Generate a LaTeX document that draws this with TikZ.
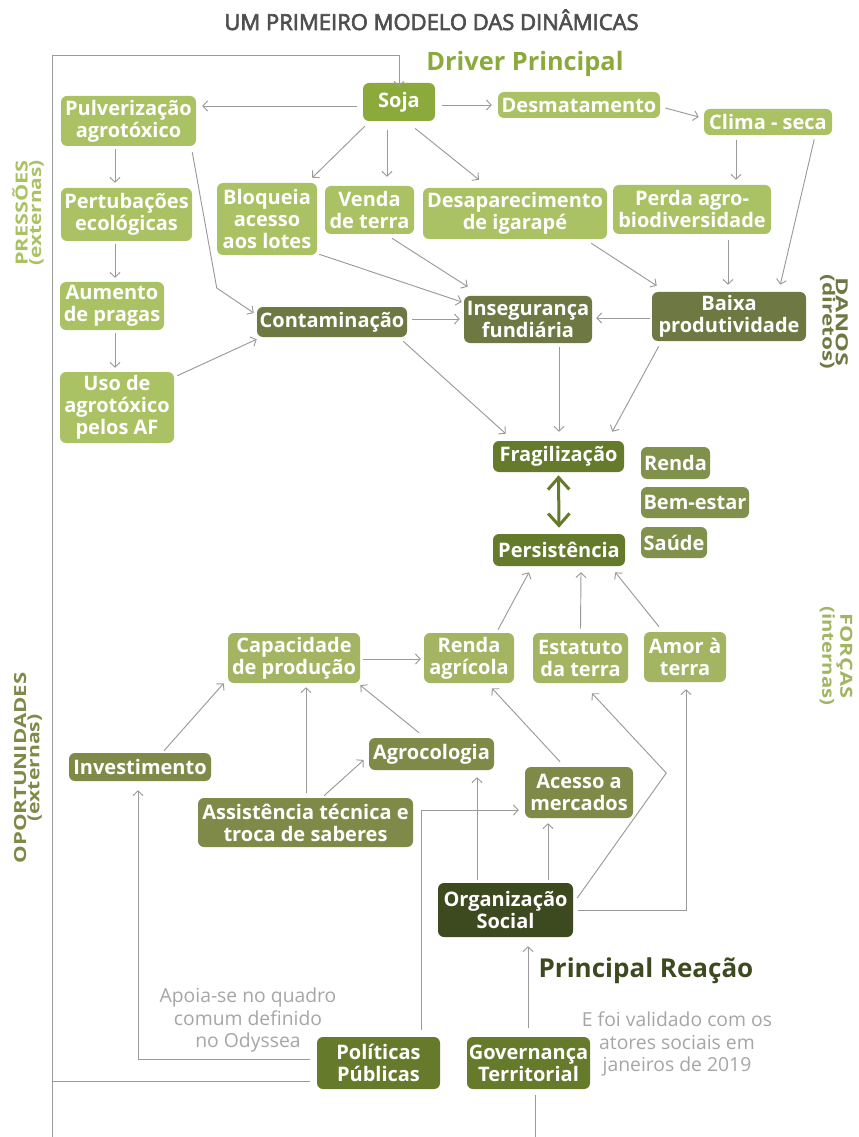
\documentclass[tikz,border=0pt]{standalone}
\usepackage{fontspec}
\setmainfont{Open Sans}
\newfontfamily\titlefont[FakeBold=3]{Open Sans}
\usetikzlibrary{arrows.meta,calc}

\definecolor{cLight}{HTML}{AAC264}
\definecolor{cSoja}{HTML}{8BAA3B}
\definecolor{cDano}{HTML}{6E7842}
\definecolor{cFrag}{HTML}{657A2A}
\definecolor{cRenda}{HTML}{80914C}
\definecolor{cForca}{HTML}{A3B562}
\definecolor{cOport}{HTML}{7F8A48}
\definecolor{cOrg}{HTML}{3D4A1F}
\definecolor{cPol}{HTML}{667A2C}
\definecolor{cLine}{HTML}{9A9A9A}
\definecolor{cTitle}{HTML}{4F4F4F}
\definecolor{cNote}{HTML}{A6A6A6}

\begin{document}
\begin{tikzpicture}[x=0.75pt,y=-0.75pt,
  box/.style={rounded corners=4.5pt, text=white, align=center, inner sep=0pt,
    font=\bfseries\fontsize{15}{16.5}\selectfont},
  sz/.style 2 args={minimum width={#1*0.75pt}, minimum height={#2*0.75pt}},
  link/.style={draw=cLine, line width=0.7pt},
  arr/.style={link, -{Straight Barb[length=3.5pt,width=7.5pt]}},
  bigarr/.style={draw=cFrag, line width=2.25pt,
    {Straight Barb[length=9pt,width=16pt]}-{Straight Barb[length=9pt,width=16pt]}},
  side/.style={align=center, inner sep=0pt, font=\bfseries\fontsize{12.5}{10}\selectfont},
  note/.style={align=center, inner sep=0pt, text=cNote, font=\fontsize{14.5}{17}\selectfont}
]
\fill[white] (0,0) rectangle (858,1137);
\useasboundingbox (0,0) rectangle (858,1137);

% headings
\node[anchor=base, inner sep=0pt, text=cTitle, font=\titlefont\fontsize{16.5}{18}\selectfont] (title) at (431.5,30) {UM PRIMEIRO MODELO DAS DINÂMICAS};
\node[anchor=base, inner sep=0pt, text=cSoja, font=\bfseries\fontsize{19}{22}\selectfont] (driver) at (525,71) {Driver Principal};
\node[anchor=base, inner sep=0pt, text=cOrg, font=\bfseries\fontsize{19.5}{22}\selectfont] (reacao) at (646,977) {Principal Reação};

% side labels
\node[side, rotate=90, text=cLight] (pressoes) at (28,213) {\scalebox{1.3}[1]{PRESSÕES}\\\scalebox{1.25}[1]{(externas)}};
\node[side, rotate=90, text=cOport] (oportun) at (28,768) {\scalebox{1.33}[1]{OPORTUNIDADES}\\\scalebox{1.27}[1]{(externas)}};
\node[side, rotate=-90, text=cDano] (danos) at (834,322) {\scalebox{1.5}[1]{DANOS}\\\scalebox{1.35}[1]{(diretos)}};
\node[side, rotate=-90, text=cForca] (forcas) at (836,656) {\scalebox{1.31}[1]{FORÇAS}\\\scalebox{1.22}[1]{(internas)}};

% notes
\node[note] (nota1) at (248,1020) {Apoia-se no quadro\\comum definido\\no Odyssea};
\node[note] (nota2) at (677,1044) {E foi validado com os\\atores sociais em\\janeiros de 2019};

% pressures
\node[box, fill=cSoja, sz={72}{38}] (soja) at (399,102) {Soja};
\node[box, fill=cLight, sz={135}{50}] (pulv) at (128.5,121) {Pulverização\\agrotóxico};
\node[box, fill=cLight, sz={131}{53}] (pert) at (126.5,214.5) {Pertubações\\ecológicas};
\node[box, fill=cLight, sz={104}{48}] (aum) at (112,306) {Aumento\\de pragas};
\node[box, fill=cLight, sz={114}{71}] (uso) at (117,407.5) {Uso de\\agrotóxico\\pelos AF};
\node[box, fill=cLight, sz={100}{72}] (bloq) at (267,219) {Bloqueia\\acesso\\aos lotes};
\node[box, fill=cLight, sz={89}{48}] (venda) at (369.5,210) {Venda\\de terra};
\node[box, fill=cLight, sz={184}{51}] (desap) at (515,213.5) {Desaparecimento\\de igarapé};
\node[box, fill=cLight, sz={158}{49}] (perda) at (692,209.5) {Perda agro-\\biodiversidade};
\node[box, fill=cLight, sz={162}{26}] (desm) at (579,105) {Desmatamento};
\node[box, fill=cLight, sz={128}{26}] (clima) at (768,122) {Clima - seca};

% damages
\node[box, fill=cDano, sz={150}{30}] (contam) at (332,322) {Contaminação};
\node[box, fill=cDano, sz={128}{47}] (inseg) at (528,319.5) {Insegurança\\fundiária};
\node[box, fill=cDano, sz={154}{49}] (baixa) at (729,316.5) {Baixa\\produtividade};

% core
\node[box, fill=cFrag, sz={131}{31}] (frag) at (558.5,456.5) {Fragilização};
\node[box, fill=cFrag, sz={132}{32}] (pers) at (559,550) {Persistência};
\node[box, fill=cRenda, sz={69}{32}] (renda) at (675.5,463) {Renda};
\node[box, fill=cRenda, sz={108}{31}] (bem) at (695,502.5) {Bem-estar};
\node[box, fill=cRenda, sz={66}{31}] (saude) at (674,542.5) {Saúde};

% forces
\node[box, fill=cForca, sz={132}{50}] (cap) at (294,658) {Capacidade\\de produção};
\node[box, fill=cForca, sz={90}{50}] (rendaag) at (469,658) {Renda\\agrícola};
\node[box, fill=cForca, sz={95}{50}] (estat) at (580.5,658) {Estatuto\\da terra};
\node[box, fill=cForca, sz={82}{50}] (amor) at (685,657) {Amor à\\terra};

% opportunities
\node[box, fill=cOport, sz={142}{28}] (invest) at (140,767) {Investimento};
\node[box, fill=cOport, sz={125}{32}] (agro) at (431.5,754) {Agrocologia};
\node[box, fill=cOport, sz={215}{49}] (assist) at (305.5,822.5) {Assistência técnica e\\troca de saberes};
\node[box, fill=cOport, sz={108}{51}] (acesso) at (579,792.5) {Acesso a\\mercados};
\node[box, fill=cOrg, sz={135}{54}] (org) at (505.5,910) {Organização\\Social};
\node[box, fill=cPol, sz={123}{52}] (pol) at (378.5,1063) {Políticas\\Públicas};
\node[box, fill=cPol, sz={123}{52}] (gov) at (528.5,1063) {Governança\\Territorial};

% outer feedback loop back to Soja
\coordinate (loopTop) at (52,55);
\coordinate (loopBot) at (52,1137);
\coordinate (p1) at ([shift={(-7,18)}]pol.west);
\draw[link] (p1) -- (loopBot |- p1);
\draw[link] (loopBot) -- (loopTop);
\draw[arr] (loopTop) -| ([yshift=-3]soja.north);

% pressures chain
\draw[arr] ([shift={(-6,4)}]soja.west) -- ([shift={(6,-15)}]pulv.east);
\draw[arr] ([shift={(7,3)}]soja.east) -- ([shift={(-6,0)}]desm.west);
\draw[arr] ([shift={(5,3)}]desm.east) -- ([shift={(-5,-5)}]clima.west);
\draw[arr] ([shift={(2,5)}]soja.south west) -- ([shift={(-5,-5)}]bloq.north east);
\draw[arr] ([shift={(-12,9)}]soja.south) -- ([shift={(17.5,-9)}]venda.north);
\draw[arr] ([shift={(16,7)}]soja.south) -- ([shift={(-36,-8)}]desap.north);
\draw[arr] ([shift={(-32,5)}]clima.south) -- ([shift={(44,-5)}]perda.north);
\draw[arr] ([shift={(-18,4)}]clima.south east) -- ([shift={(-26,-7)}]baixa.north east);
\draw[arr] ([shift={(36,6)}]perda.south) -- ([shift={(-1,-7)}]baixa.north);
\draw[arr] ([shift={(-16,4)}]desap.south east) -- ([shift={(5,-6)}]baixa.north west);
\draw[arr] ([shift={(-4,6)}]pulv.south east) -- ([shift={(-40,-34)}]contam.west) -- ([shift={(-3,-9)}]contam.west);
\draw[arr] ([shift={(-13.5,3)}]pulv.south) -- ([shift={(-11.5,-5)}]pert.north);
\draw[arr] ([shift={(-11.5,3)}]pert.south) -- ([shift={(3,-4)}]aum.north);
\draw[arr] ([shift={(3,3)}]aum.south) -- ([shift={(-2,-4)}]uso.north);
\draw[arr] ([shift={(3,4)}]uso.north east) -- ([shift={(0,2)}]contam.south west);

% damages
\draw[arr] ([shift={(5,-3)}]contam.east) -- ([shift={(-4,-0.5)}]inseg.west);
\draw[arr] ([shift={(2,-1)}]bloq.south east) -- ([shift={(-2,-17.5)}]inseg.west);
\draw[arr] ([shift={(22.5,4)}]venda.south) -- ([shift={(4,-9)}]inseg.north west);
\draw[arr] ([shift={(-2,1.5)}]baixa.west) -- ([shift={(4,-1.5)}]inseg.east);
\draw[arr] ([shift={(-4,4)}]contam.south east) -- ([shift={(13,-7)}]frag.north west);
\draw[arr] ([shift={(31,4)}]inseg.south) -- ([shift={(0.5,-9)}]frag.north);
\draw[arr] ([shift={(7,5)}]baixa.south west) -- ([shift={(-12,-9)}]frag.north east);

% core cycle
\draw[bigarr] ([shift={(0,3)}]frag.south) -- ([shift={(0,-6)}]pers.north);

% forces
\draw[arr] ([shift={(29,-3)}]rendaag.north) -- ([shift={(-30,6)}]pers.south);
\draw[arr] ([shift={(0,-4)}]estat.north) -- ([shift={(22,6)}]pers.south);
\draw[arr] ([shift={(-26,-5)}]amor.north) -- ([shift={(-10,6)}]pers.south east);
\draw[arr] ([shift={(3,1)}]cap.east) -- ([shift={(-3,1)}]rendaag.west);

% opportunities
\draw[arr] ([shift={(24,-2)}]invest.north) -- ([shift={(-4,0)}]cap.south west);
\draw[arr] ([shift={(0.5,-5)}]assist.north) -- ([shift={(12,4)}]cap.south);
\draw[arr] ([shift={(18.5,-2)}]assist.north) -- ([shift={(-5,6)}]agro.west);
\draw[arr] ([shift={(-12.5,-5)}]agro.north) -- ([shift={(0,2)}]cap.south east);
\draw[arr] ([shift={(-19,-5)}]acesso.north) -- ([shift={(23,5)}]rendaag.south);
\draw[arr] ([shift={(4,-12)}]org.east) -- ([shift={(93,-137)}]org.east) -- ([shift={(11.5,10)}]estat.south);
\draw[arr] ([shift={(5,0)}]org.east) -| ([shift={(1,7)}]amor.south);
\draw[arr] ([shift={(42.5,-3)}]org.north) -- ([shift={(-31,5)}]acesso.south);
\draw[arr] ([shift={(-28.5,-3)}]org.north) -- ([shift={(45.5,7)}]agro.south);
\draw[arr] ([shift={(42.5,-7)}]pol.north) |- ([shift={(-6,17.5)}]acesso.west);
\draw[arr] ([shift={(-7,-4)}]pol.west) -| ([shift={(-2,9)}]invest.south);
\draw[arr] ([shift={(-0.5,-9)}]gov.north) -- ([shift={(22.5,9)}]org.south);
\coordinate (g1) at ([shift={(6.5,6)}]gov.south);
\draw[link] (g1) -- (g1 |- loopBot);

\end{tikzpicture}
\end{document}
